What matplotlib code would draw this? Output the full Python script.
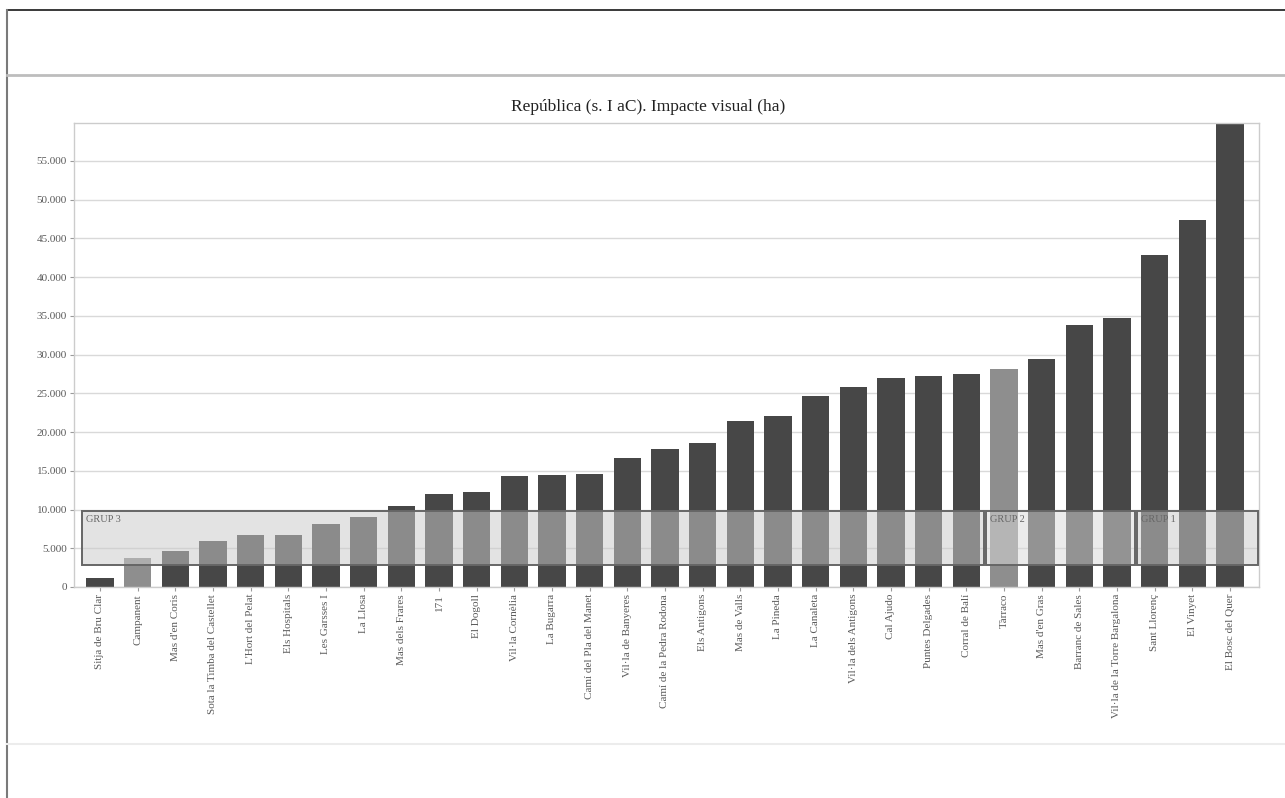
import matplotlib
matplotlib.use('Agg')
import matplotlib.pyplot as plt
from matplotlib.patches import Rectangle
from matplotlib.lines import Line2D
from matplotlib.ticker import FuncFormatter

# data (ha)
sites = ["Sitja de Bru Clar", "Campanent", "Mas d'en Coris",
         "Sota la Timba del Castellet", "L'Hort del Pelat", "Els Hospitals",
         "Les Garsses I", "La Llosa", "Mas dels Frares", "171", "El Dogoll",
         "Vil·la Cornèlia", "La Bugarra", "Camí del Pla del Manet",
         "Vil·la de Banyeres", "Camí de la Pedra Rodona", "Els Antigons",
         "Mas de Valls", "La Pineda", "La Canaleta", "Vil·la dels Antigons",
         "Cal Ajudo", "Puntes Delgades", "Corral de Balí", "Tàrraco",
         "Mas d'en Gras", "Barranc de Sales", "Vil·la de la Torre Bargalona",
         "Sant Llorenç", "El Vinyet", "El Bosc del Quer"]
impact = [1200, 3750, 4600, 6000, 6650, 6700, 8100, 9000, 10400, 12050,
          12200, 14300, 14400, 14550, 16700, 17850, 18600, 21450, 22100,
          24650, 25800, 26950, 27250, 27500, 28100, 29400, 33800, 34700,
          42900, 47400, 60000]
light = ["Campanent", "Tàrraco"]
groups = [("GRUP 3", 0, 23), ("GRUP 2", 24, 27), ("GRUP 1", 28, 30)]
band = (2800, 9800)

fig = plt.figure(figsize=(12.85, 7.98), dpi=100)
fig.patch.set_facecolor('white')

# page frame lines (figure pixel fractions)
W, H = 1285., 798.
fig.add_artist(Line2D([7/W, 1], [1-10/H, 1-10/H], color='#2a2a2a', lw=1.3))
fig.add_artist(Line2D([7/W, 7/W], [0, 1-10/H], color='#7a7a7a', lw=1.5))
fig.add_artist(Line2D([7/W, 1], [1-75/H, 1-75/H], color='#bdbdbd', lw=2))
fig.add_artist(Line2D([7/W, 1], [1-744/H, 1-744/H], color='#ececec', lw=1.5))

ax = fig.add_axes([74/W, 1-587/H, (1259-74)/W, (587-123)/H])
x = list(range(len(sites)))
cols = ['#8e8e8e' if s in light else '#474747' for s in sites]
ax.bar(x, impact, width=0.72, color=cols, zorder=2)

ax.set_xlim(-0.69, 30.77)
ax.set_ylim(0, 59900)
ax.set_yticks(range(0, 60000, 5000))
ax.yaxis.set_major_formatter(FuncFormatter(lambda v, p: f"{int(v):,}".replace(',', '.')))
ax.grid(axis='y', color='#d9d9d9', lw=1, zorder=0)
ax.set_axisbelow(True)
ax.set_xticks(x)
ax.set_xticklabels(sites, rotation=90, fontsize=8, family='Liberation Serif', color='#5a5a5a')
for t in ax.get_yticklabels():
    t.set_fontsize(8)
    t.set_family('Liberation Serif')
    t.set_color('#5a5a5a')
ax.tick_params(length=3, width=0.8, color='#9a9a9a', pad=2)
for sp in ax.spines.values():
    sp.set_color('#cccccc')
    sp.set_linewidth(1)

# group boxes
for name, a, b in groups:
    x0 = a - 0.47
    x1 = b + 0.47 if b < len(sites) - 1 else 30.74
    fc = '#dadada' if name == "GRUP 2" else '#cacaca'
    ax.add_patch(Rectangle((x0, band[0]), x1 - x0, band[1] - band[0],
                           facecolor=fc, alpha=0.52, lw=0, zorder=3))
    ax.add_patch(Rectangle((x0, band[0]), x1 - x0, band[1] - band[0],
                           fill=False, edgecolor='#666666', lw=1.4, zorder=4))
    ax.text(x0 + 0.1, band[1] - 450, name, fontsize=7.5, family='Liberation Serif',
            color='#666666', va='top', ha='left', zorder=5)

fig.text(648/W, 1-107/H, "República (s. I aC). Impacte visual (ha)",
         ha='center', va='center', fontsize=12.5, family='Liberation Serif',
         color='#222222')

fig.savefig('out.png', dpi=100)
